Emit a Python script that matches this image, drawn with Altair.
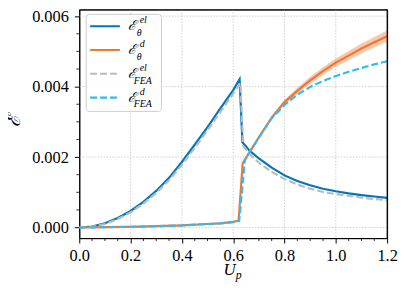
import altair as alt
import pandas as pd

# ---- data ----
up_el = [0, 0.05, 0.1, 0.15, 0.2, 0.25, 0.3, 0.35, 0.4, 0.45, 0.5, 0.55, 0.6, 0.625,
         0.636, 0.663, 0.7, 0.75, 0.8, 0.85, 0.9, 0.95, 1.0, 1.05, 1.1, 1.15, 1.2]
e_el = [0, 0.00003, 0.00012, 0.00027, 0.00047, 0.00073, 0.00104, 0.00141, 0.00186, 0.00235,
        0.00285, 0.00338, 0.0039, 0.00421, 0.00242, 0.00219, 0.00196, 0.0017, 0.00148,
        0.00132, 0.0012, 0.0011, 0.00103, 0.00097, 0.00092, 0.00088, 0.00084]

up_fea_el = [0, 0.05, 0.1, 0.15, 0.2, 0.25, 0.3, 0.35, 0.4, 0.45, 0.5, 0.55, 0.6, 0.628,
             0.639, 0.662, 0.7, 0.75, 0.8, 0.85, 0.9, 0.95, 1.0, 1.05, 1.1, 1.15, 1.2]
e_fea_el = [0, 0.00002, 0.0001, 0.00024, 0.00043, 0.00068, 0.00098, 0.00134, 0.00178, 0.00226,
            0.00276, 0.00328, 0.0038, 0.0041, 0.00232, 0.0021, 0.00184, 0.00158, 0.00138,
            0.00122, 0.0011, 0.00101, 0.00095, 0.0009, 0.00085, 0.00081, 0.00078]

up_d = [0, 0.1, 0.2, 0.3, 0.4, 0.5, 0.55, 0.6, 0.621, 0.637, 0.652, 0.7, 0.75, 0.8, 0.85,
        0.9, 0.95, 1.0, 1.05, 1.1, 1.15, 1.2]
e_d = [0, 0.00001, 0.00002, 0.00004, 0.00006, 0.0001, 0.00012, 0.00016, 0.0002, 0.00183,
       0.002, 0.00256, 0.00312, 0.00356, 0.00388, 0.00418, 0.00444, 0.00468, 0.00488,
       0.00508, 0.00526, 0.00543]
band_d = [0, 0, 0, 0, 0, 0, 0, 0, 0, 0, 0.00002, 0.00003, 0.00005, 0.00007, 0.00009,
          0.0001, 0.00011, 0.00012, 0.00013, 0.00014, 0.00015, 0.00016]

up_fea_d = [0, 0.1, 0.2, 0.3, 0.4, 0.5, 0.55, 0.6, 0.623, 0.634, 0.645, 0.66, 0.7, 0.75,
            0.8, 0.85, 0.9, 0.95, 1.0, 1.05, 1.1, 1.15, 1.2]
e_fea_d = [0, 0.00001, 0.00002, 0.00004, 0.00006, 0.0001, 0.00012, 0.00015, 0.00018, 0.001,
           0.0019, 0.0021, 0.00255, 0.0031, 0.00348, 0.00377, 0.00399, 0.00416, 0.0043,
           0.00442, 0.00453, 0.00463, 0.00472]

x_major = [0.0, 0.2, 0.4, 0.6, 0.8, 1.0, 1.2]
x_grid = [0.2, 0.4, 0.6, 0.8, 1.0]
x_minor = [0.05, 0.1, 0.15, 0.25, 0.3, 0.35, 0.45, 0.5, 0.55, 0.65, 0.7, 0.75,
           0.85, 0.9, 0.95, 1.05, 1.1, 1.15]
y_major = [0.0, 0.002, 0.004, 0.006]
y_minor = [0.0005, 0.001, 0.0015, 0.0025, 0.003, 0.0035, 0.0045, 0.005, 0.0055]

legend_sup = ["el", "d", "el", "d"]
legend_sub = ["θ", "θ", "FEA", "FEA"]
legend_colors = ["#0077BB", "#EE7733", "#BBBBBB", "#33BBEE"]
legend_dash = [[1, 0], [1, 0], [7, 3], [7, 3]]

W, H = 311, 231
SERIF = "Liberation Serif"
MATH = "DejaVu Serif"

xs = alt.Scale(domain=[0, 1.2], nice=False, zero=False)
ys = alt.Scale(domain=[-0.0003, 0.00619], nice=False, zero=False)
xaxis = alt.Axis(values=x_major, format=".1f", grid=False, title=None, labelFlush=False,
                 labelFont=SERIF, labelFontSize=16.5, labelPadding=5)
yaxis = alt.Axis(values=y_major, format=".3f", grid=False, title=None, labelFlush=False,
                 labelFont=SERIF, labelFontSize=16.5, labelPadding=6)


def X(f="x"):
    return alt.X(f, type="quantitative", scale=xs, axis=xaxis)


def Y(f="y"):
    return alt.Y(f, type="quantitative", scale=ys, axis=yaxis)


def line(xv, yv, color, dash=None, width=2.2):
    df = pd.DataFrame({"x": xv, "y": yv, "o": list(range(len(xv)))})
    kw = dict(color=color, strokeWidth=width, clip=True)
    if dash:
        kw["strokeDash"] = dash
    return alt.Chart(df).mark_line(**kw).encode(x=X(), y=Y(), order="o:Q")


GRID = dict(color="#c4c4c4", strokeWidth=0.8, strokeDash=[1.5, 1.5])
gridx = alt.Chart(pd.DataFrame({"x": x_grid})).mark_rule(**GRID).encode(x=X())
gridy = alt.Chart(pd.DataFrame({"y": y_major})).mark_rule(**GRID).encode(y=Y())

band_df = pd.DataFrame({
    "x": up_d,
    "lo": [a - b for a, b in zip(e_d, band_d)],
    "hi": [a + b for a, b in zip(e_d, band_d)],
})
band = alt.Chart(band_df).mark_area(color="#EE7733", opacity=0.4, clip=True).encode(
    x=X(), y=Y("lo"), y2="hi")

l_el = line(up_el, e_el, "#0077BB")
l_d = line(up_d, e_d, "#EE7733")
l_fea_el = line(up_fea_el, e_fea_el, "#BBBBBB", [7, 3])
l_fea_d = line(up_fea_d, e_fea_d, "#33BBEE", [7, 3])

minx = alt.Chart(pd.DataFrame({"x": x_minor})).mark_rule(color="black", strokeWidth=0.8).encode(
    x=X(), y=alt.value(H), y2=alt.value(H + 3))
miny = alt.Chart(pd.DataFrame({"y": y_minor})).mark_rule(color="black", strokeWidth=0.8).encode(
    y=Y(), x=alt.value(0), x2=alt.value(-3))

one = pd.DataFrame({"a": [0]})
layers = [gridx, gridy, band, l_el, l_d, l_fea_el, l_fea_d, minx, miny]

# legend box (offsets relative to plot top, which now sits 3px lower than in the reference)
T = -3
layers.append(alt.Chart(one).mark_rect(fill="white", fillOpacity=0.85, stroke="#cccccc",
                                        strokeWidth=1, cornerRadius=3).encode(
    x=alt.value(7), x2=alt.value(83), y=alt.value(8 + T), y2=alt.value(106 + T)))
for i in range(4):
    yc = 20 + i * 24 + T
    layers.append(alt.Chart(one).mark_rule(color=legend_colors[i], strokeWidth=2.2,
                                            strokeDash=legend_dash[i]).encode(
        x=alt.value(11), x2=alt.value(41), y=alt.value(yc)))
    layers.append(alt.Chart(one).mark_text(font=MATH, fontSize=14, fontStyle="italic",
                                            align="left", baseline="middle", color="black").encode(
        x=alt.value(49), y=alt.value(yc), text=alt.value("ℰ")))
    layers.append(alt.Chart(one).mark_text(font=SERIF, fontSize=10, fontStyle="italic",
                                            align="left", baseline="middle", color="black").encode(
        x=alt.value(61), y=alt.value(yc - 6), text=alt.value(legend_sup[i])))
    sx = 58 if legend_sub[i] == "θ" else 55
    layers.append(alt.Chart(one).mark_text(font=SERIF, fontSize=10, fontStyle="italic",
                                            align="left", baseline="middle", color="black").encode(
        x=alt.value(sx), y=alt.value(yc + 7), text=alt.value(legend_sub[i])))

# axis titles
layers.append(alt.Chart(one).mark_text(font=SERIF, fontSize=17, fontStyle="italic",
                                        align="right", baseline="alphabetic", color="black").encode(
    x=alt.value(158), y=alt.value(271 + T), text=alt.value("U")))
layers.append(alt.Chart(one).mark_text(font=SERIF, fontSize=12, fontStyle="italic",
                                        align="left", baseline="alphabetic", color="black").encode(
    x=alt.value(158), y=alt.value(275 + T), text=alt.value("p")))
layers.append(alt.Chart(one).mark_text(font=MATH, fontSize=20, fontStyle="italic", angle=270,
                                        align="center", baseline="middle", color="black").encode(
    x=alt.value(-66), y=alt.value(116 + T), text=alt.value("ℰ")))

# top and right frame lines
layers.append(alt.Chart(one).mark_rule(color="black", strokeWidth=1).encode(
    x=alt.value(0), x2=alt.value(W), y=alt.value(0.5)))
layers.append(alt.Chart(one).mark_rule(color="black", strokeWidth=1).encode(
    x=alt.value(W), y=alt.value(0), y2=alt.value(H)))

chart = alt.layer(*layers).properties(
    width=W, height=H,
    autosize=alt.AutoSizeParams(type="none"),
    padding={"left": 72, "top": 0, "right": 12, "bottom": 54},
).configure(font=SERIF).configure_view(stroke="black", strokeWidth=1).configure_axis(
    domainColor="black", domainWidth=1, tickColor="black", tickSize=5, tickWidth=1,
    labelFont=SERIF, labelFontSize=16.5, labelColor="black",
)

chart.save("out.html", embed_options={"renderer": "svg", "actions": False})
